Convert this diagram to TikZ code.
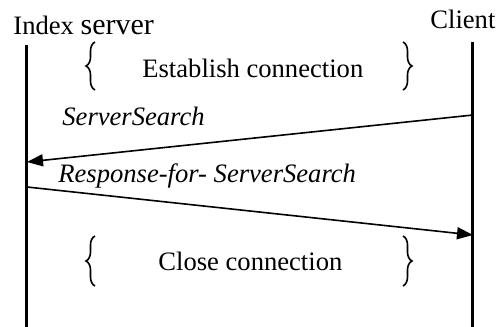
\documentclass[tikz,border=0pt]{standalone}
\usepackage{fontspec}
\setmainfont{Liberation Serif}
\usetikzlibrary{positioning,arrows.meta,decorations.pathreplacing}

\begin{document}
\begin{tikzpicture}[x=0.5pt,y=-0.5pt,
  lifeline/.style={line width=1.5pt},
  msg/.style={line width=0.8pt,-{Triangle[length=8pt,width=6pt]}},
  txt/.style={anchor=base west,inner sep=0pt,font=\fontsize{13.3}{16}\selectfont},
  msglabel/.style={txt,font=\fontsize{13.3}{16}\selectfont\itshape},
  lbrace/.style={decorate,decoration={brace,amplitude=4.5pt},line width=0.8pt}]
  \useasboundingbox (0,0) rectangle (500,327);

  % participants
  \node (server) [txt] at (13,34) {Index {\fontsize{15}{18}\selectfont server}};
  \node (client) [txt] at (430,28) {Client};

  \coordinate (s top) at (27,45);
  \coordinate (s bot) at (27,327);
  \coordinate (c top) at (473,42);
  \coordinate (c bot) at (473,327);
  \draw[lifeline] (s top) -- (s bot);
  \draw[lifeline] (c top) -- (c bot);

  % establish connection
  \node (open) [txt] at (142,77) {Establish connection};
  \draw[lbrace] (95,90) -- (95,42);
  \draw[lbrace] (403,42) -- (403,90);

  % messages
  \coordinate (q from) at (473,115);
  \coordinate (q to) at (27,162);
  \coordinate (r from) at (27,187);
  \coordinate (r to) at (473,235);
  \node (query) [msglabel] at (62,125) {ServerSearch};
  \node (reply) [msglabel] at (58,182) {Response-for- ServerSearch};
  \draw[msg] (q from) -- (q to);
  \draw[msg] (r from) -- (r to);

  % close connection
  \node (close) [txt] at (158,270) {Close connection};
  \draw[lbrace] (95,286) -- (95,236);
  \draw[lbrace] (403,236) -- (403,286);
\end{tikzpicture}
\end{document}
